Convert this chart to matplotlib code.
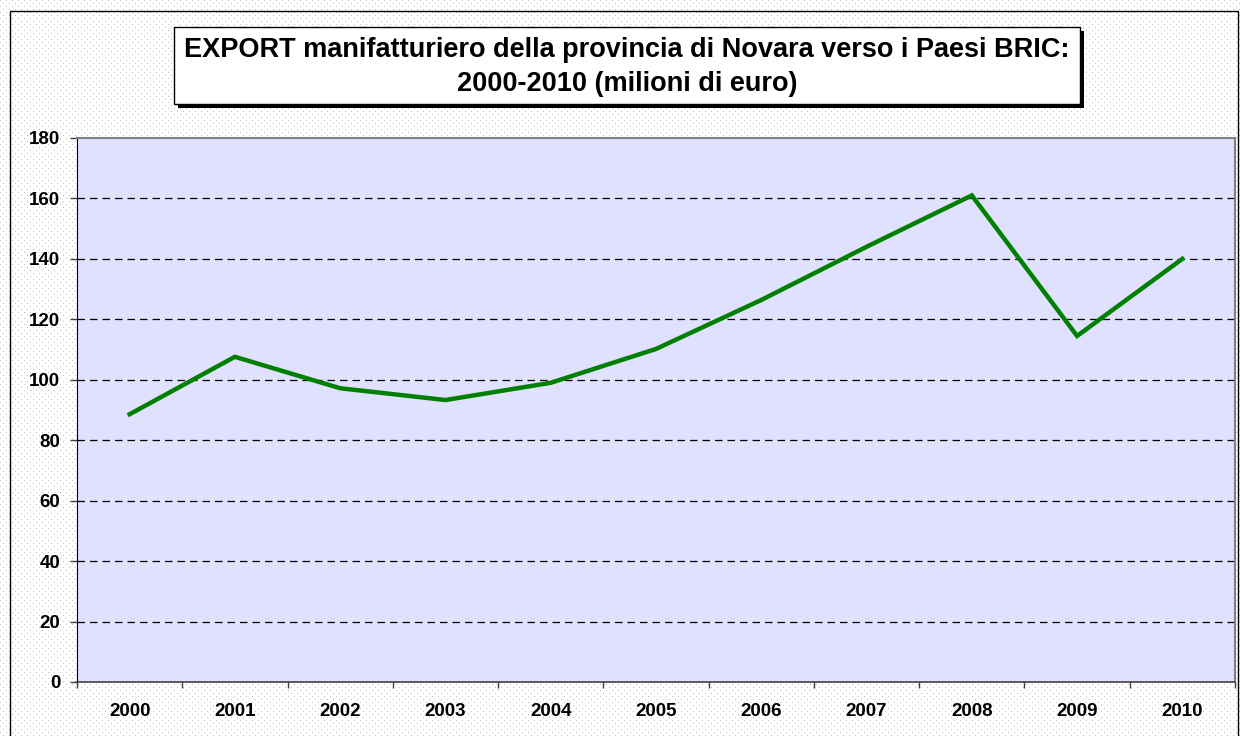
import numpy as np
import matplotlib
matplotlib.use("Agg")
import matplotlib.pyplot as plt
from matplotlib.patches import Rectangle

years = ["2000", "2001", "2002", "2003", "2004", "2005", "2006", "2007", "2008", "2009", "2010"]
export_values = [88.6, 107.6, 97.2, 93.3, 99.0, 110.2, 126.4, 144.0, 161.0, 114.5, 140.0]
y_ticks = [0, 20, 40, 60, 80, 100, 120, 140, 160, 180]
title_text = "EXPORT manifatturiero della provincia di Novara verso i Paesi BRIC:\n2000-2010 (milioni di euro)"

W, H = 1240, 736
plt.rcParams['font.family'] = ['Liberation Sans', 'DejaVu Sans']
fig = plt.figure(figsize=(W / 100, H / 100), dpi=100)
fig.patch.set_facecolor('white')

# dotted background pattern
bg = np.ones((H, W, 3))
rr, cc = np.mgrid[0:H, 0:W]
dots = ((rr % 6 == 0) & (cc % 6 == 0)) | ((rr % 6 == 3) & (cc % 6 == 3))
bg[dots] = [0.76, 0.76, 0.76]
fig.figimage(bg, xo=0, yo=0, zorder=-10)

def fx(px):
    return px / W

def fy(py):
    return 1 - py / H

# outer chart border
fig.add_artist(Rectangle((fx(10), fy(745)), fx(1238) - fx(10), fy(11) - fy(745),
                         transform=fig.transFigure, fill=False, edgecolor='black', lw=1.0, zorder=1))

# axes
ax = fig.add_axes([fx(77), fy(682), fx(1235) - fx(77), fy(138) - fy(682)])
ax.set_zorder(2)
ax.set_facecolor('#E0E0FF')
x = np.arange(len(years))
ax.plot(x, export_values, color='#008000', lw=3.2, solid_joinstyle='miter', zorder=3)
ax.set_xlim(-0.5, len(years) - 0.5)
ax.set_ylim(0, 180)
ax.set_yticks(y_ticks)
ax.set_yticklabels([str(v) for v in y_ticks], fontsize=13.5, fontweight='bold')
ax.set_xticks(x)
ax.set_xticklabels(years, fontsize=13.5, fontweight='bold')
ax.set_xticks(np.arange(-0.5, len(years)), minor=True)
ax.tick_params(axis='x', which='major', length=0, pad=15)
ax.tick_params(axis='x', which='minor', length=4, width=1, color='#404040', direction='out')
ax.tick_params(axis='y', length=5, width=1, color='#404040', pad=7)
for v in y_ticks[1:-1]:
    ax.axhline(v, color='black', lw=0.9, ls=(0, (6, 4)), zorder=1)
for s in ['top', 'right']:
    ax.spines[s].set_color('#808080')
    ax.spines[s].set_linewidth(1.5)
ax.spines['left'].set_color('black')
ax.spines['bottom'].set_color('#404040')
ax.spines['bottom'].set_linewidth(1.2)

# title box with shadow
bx0, bx1, by0, by1 = 174, 1080, 27, 104
fig.add_artist(Rectangle((fx(bx0 + 4), fy(by1 + 4)), fx(bx1) - fx(bx0), fy(by0) - fy(by1),
                         transform=fig.transFigure, facecolor='black', edgecolor='black', lw=0, zorder=2))
fig.add_artist(Rectangle((fx(bx0), fy(by1)), fx(bx1) - fx(bx0), fy(by0) - fy(by1),
                         transform=fig.transFigure, facecolor='white', edgecolor='black', lw=1.0, zorder=3))
fig.text(fx((bx0 + bx1) / 2), fy(67), title_text, ha='center', va='center',
         fontsize=19.5, fontweight='bold', linespacing=1.4, zorder=4)

fig.savefig('out.png', dpi=100)
